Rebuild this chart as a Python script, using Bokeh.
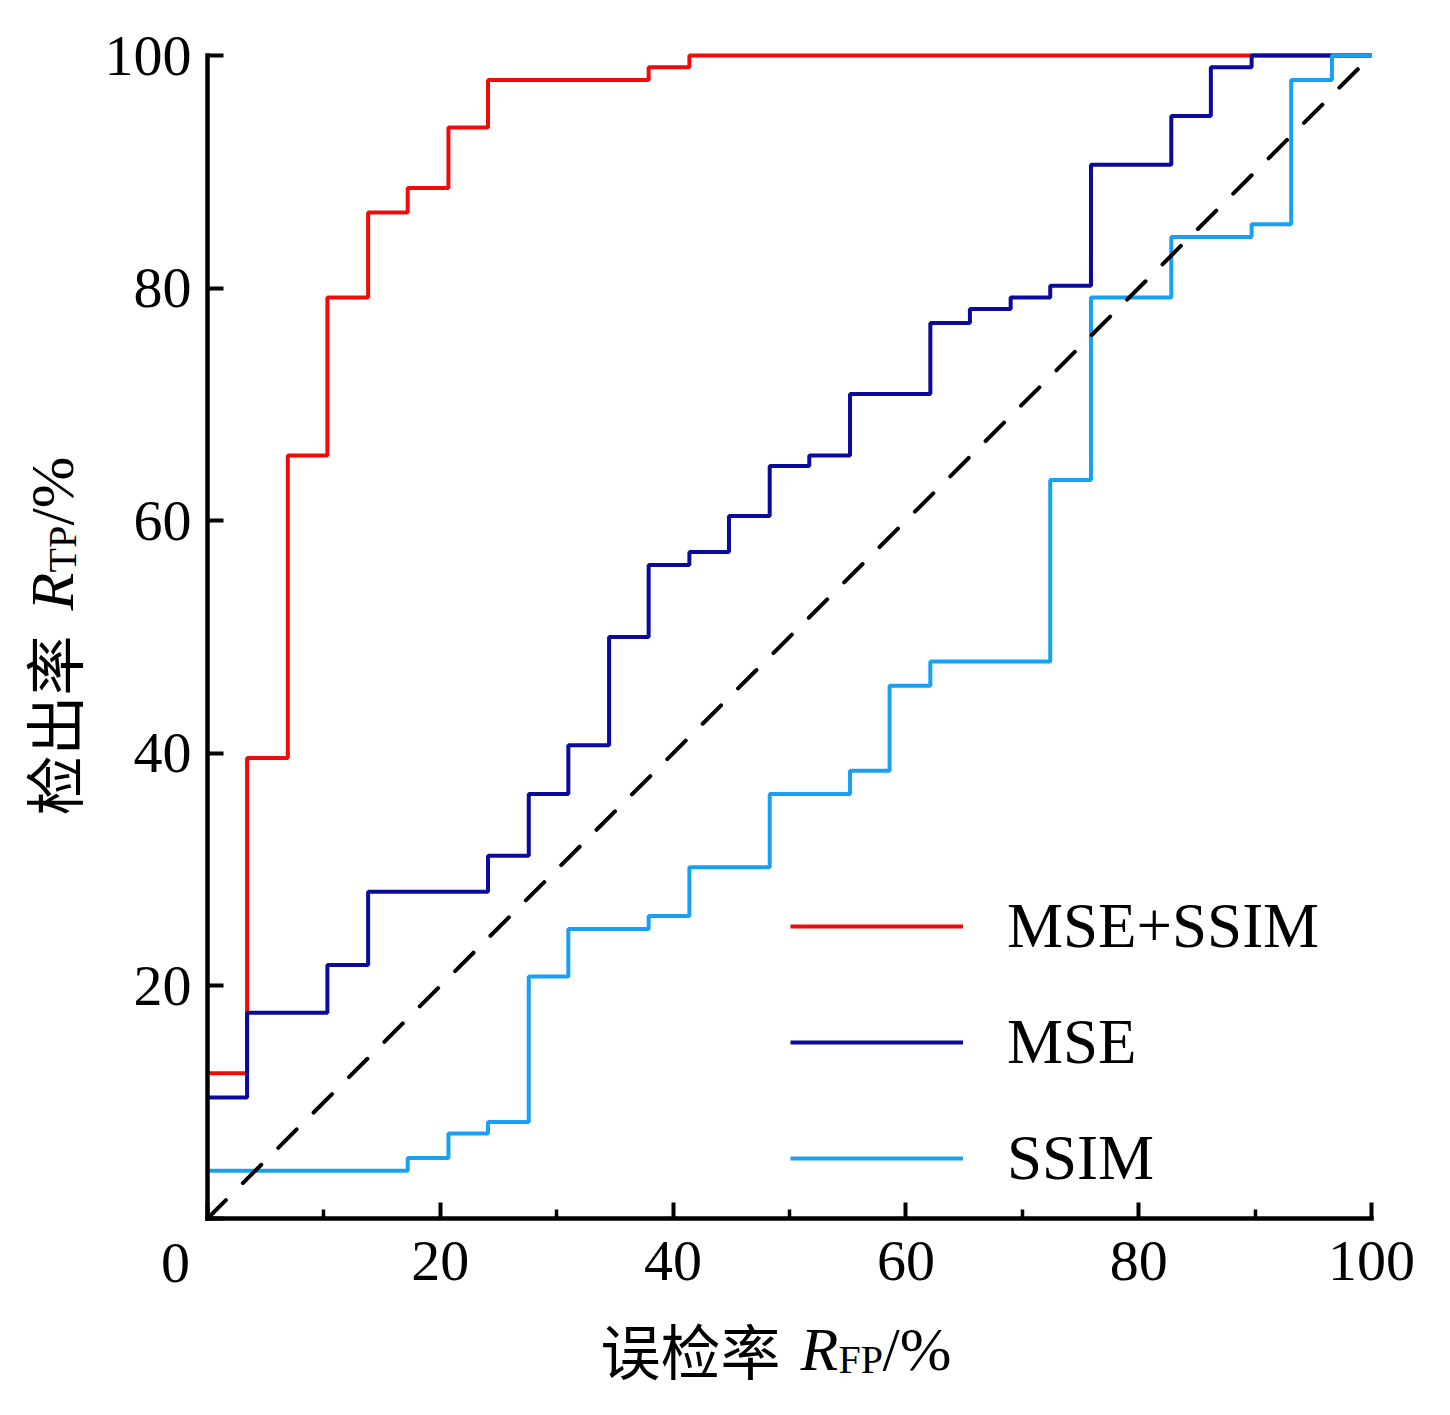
from bokeh.plotting import figure
from bokeh.models import FixedTicker, Label, Legend, LegendItem, Range1d
from bokeh.embed import file_html
from bokeh.resources import INLINE
import math

# ---------------- data ----------------
series_names = ["MSE+SSIM", "MSE", "SSIM"]

fpr_mse_ssim = [0, 3.4, 6.9, 10.3, 13.8, 17.2, 20.7, 24.1, 37.9, 41.4, 100]
tpr_mse_ssim = [12.5, 39.6, 65.6, 79.2, 86.5, 88.6, 93.8, 97.9, 99.0, 100, 100]

fpr_mse = [0, 3.4, 10.3, 13.8, 24.1, 27.6, 31.0, 34.5, 37.9, 41.4, 44.8, 48.3,
           51.7, 55.2, 62.1, 65.5, 69.0, 72.4, 75.9, 82.8, 86.2, 89.7, 100]
tpr_mse = [10.4, 17.7, 21.8, 28.1, 31.2, 36.5, 40.7, 50.0, 56.2, 57.3, 60.4, 64.7,
           65.6, 70.9, 77.0, 78.2, 79.2, 80.2, 90.6, 94.8, 99.0, 100, 100]

fpr_ssim = [0, 17.2, 20.7, 24.1, 27.6, 31.0, 37.9, 41.4, 48.3, 55.2, 58.6, 62.1,
            72.4, 75.9, 82.8, 89.7, 93.1, 96.6, 100]
tpr_ssim = [4.1, 5.2, 7.3, 8.3, 20.8, 24.9, 26.0, 30.2, 36.5, 38.5, 45.8, 47.9,
            63.5, 79.2, 84.4, 85.5, 97.9, 100, 100]

diag_x = [0, 100]
diag_y = [0, 100]

x_ticks = [0, 20, 40, 60, 80, 100]
x_minor_ticks = [10, 30, 50, 70, 90]
y_ticks = [0, 20, 40, 60, 80, 100]

# ---------------- layout / styling ----------------
W, H = 1440, 1410
PX0, PX100 = 207, 1371      # canvas x of data 0 / 100
PY0, PY100 = 1218, 55       # canvas y of data 0 / 100
sx_ = (PX100 - PX0) / 100.0
sy_ = (PY0 - PY100) / 100.0

SERIF = "Liberation Serif"
CJK = "Noto Sans CJK SC"
colors = ["#f20a0a", "#0a0a9c", "#18a0f2"]
LW = 4

p = figure(width=W, height=H, output_backend="svg", toolbar_location=None,
           x_range=Range1d(-PX0 / sx_, (W - PX0) / sx_),
           y_range=Range1d(-(H - PY0) / sy_, PY0 / sy_),
           min_border=0, min_border_left=0, min_border_right=0,
           min_border_top=0, min_border_bottom=0)
p.outline_line_color = None
p.xgrid.visible = False
p.ygrid.visible = False
p.background_fill_color = "white"

r1 = p.step(fpr_mse_ssim, tpr_mse_ssim, mode="after", line_color=colors[0], line_width=LW)
r2 = p.step(fpr_mse, tpr_mse, mode="after", line_color=colors[1], line_width=LW)
r3 = p.step(fpr_ssim, tpr_ssim, mode="after", line_color=colors[2], line_width=LW)
p.line(diag_x, diag_y, line_color="black", line_width=LW, line_dash="26 24", line_cap="round")

legend = Legend(items=[LegendItem(label=series_names[0], renderers=[r1]),
                       LegendItem(label=series_names[1], renderers=[r2]),
                       LegendItem(label=series_names[2], renderers=[r3])],
                location=(790, H - 1198), orientation="vertical",
                glyph_width=173, glyph_height=80, label_height=80,
                label_standoff=44, spacing=36, padding=0, margin=0,
                label_text_font=SERIF, label_text_font_size="63px",
                label_text_color="black", label_text_baseline="middle",
                border_line_color=None, background_fill_alpha=0)
p.add_layout(legend)

for ax in (p.xaxis[0], p.yaxis[0]):
    ax.fixed_location = 0
    ax.bounds = (0, 100)
    ax.axis_line_width = 4.5
    ax.axis_line_color = "black"
    ax.axis_line_cap = "square"
    ax.major_tick_line_width = 4
    ax.major_tick_in = 16
    ax.major_tick_out = 0
    ax.minor_tick_line_width = 3.5
    ax.minor_tick_in = 9
    ax.minor_tick_out = 0
    ax.major_label_text_font = SERIF
    ax.major_label_text_font_size = "58px"
    ax.major_label_text_color = "black"
    ax.axis_label = None

p.xaxis[0].ticker = FixedTicker(ticks=x_ticks, minor_ticks=x_minor_ticks)
p.yaxis[0].ticker = FixedTicker(ticks=y_ticks, minor_ticks=[])
p.xaxis[0].major_label_overrides = {0: ""}
p.yaxis[0].major_label_overrides = {0: ""}
p.xaxis[0].major_label_standoff = 23
p.yaxis[0].major_label_standoff = 16


def lab(text, x, y, font, size, style="normal", angle=0.0, align="left", baseline="alphabetic"):
    # x, y given as canvas pixels from the top-left corner
    p.add_layout(Label(x=x, y=H - y, x_units="screen", y_units="screen", text=text,
                       text_font=font, text_font_size=size, text_font_style=style,
                       text_color="black", text_align=align, text_baseline=baseline,
                       angle=angle))


# shared origin label
lab("0", 175, 1262, SERIF, "58px", align="center", baseline="middle")

# x axis title: 误检率 R_FP/%
XB = 1348
lab("误检率", 600, XB, CJK, "60px")
lab("R", 800, XB, SERIF, "62px", "italic")
lab("FP", 838, XB + 11, SERIF, "40px")
lab("/%", 882, XB, SERIF, "62px")

# y axis title: 检出率 R_TP/%
A = math.pi / 2
YB = 51
lab("检出率", YB, 815, CJK, "60px", angle=A)
lab("R", YB, 610, SERIF, "62px", "italic", angle=A)
lab("TP", YB + 11, 572, SERIF, "40px", angle=A)
lab("/%", YB, 525, SERIF, "62px", angle=A)

open("out.html", "w").write(file_html(p, INLINE))
